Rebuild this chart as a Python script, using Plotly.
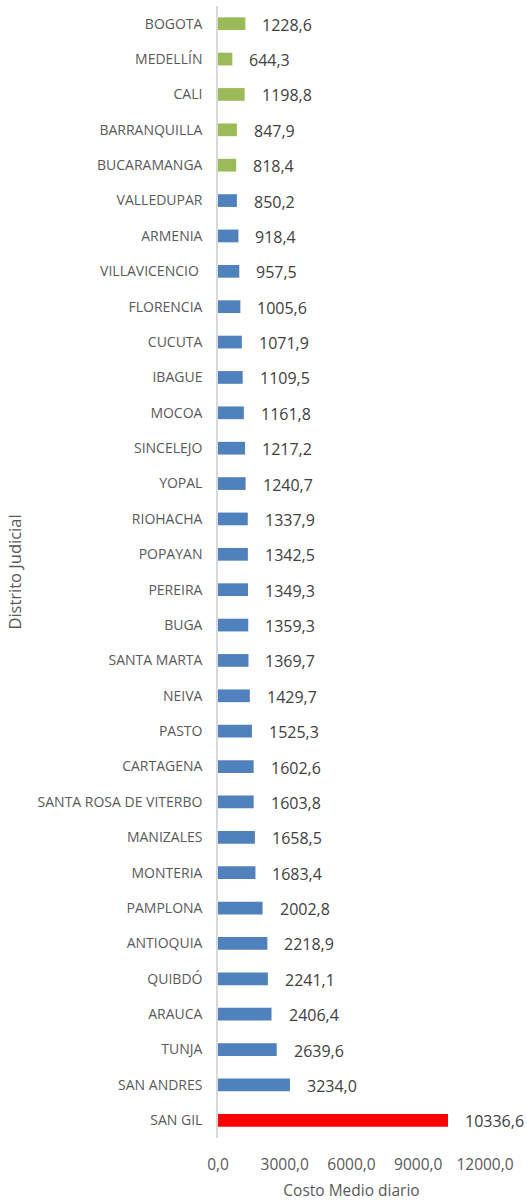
import plotly.graph_objects as go

categories = ["BOGOTA", "MEDELLÍN", "CALI", "BARRANQUILLA", "BUCARAMANGA",
              "VALLEDUPAR", "ARMENIA", "VILLAVICENCIO ", "FLORENCIA", "CUCUTA",
              "IBAGUE", "MOCOA", "SINCELEJO", "YOPAL", "RIOHACHA", "POPAYAN",
              "PEREIRA", "BUGA", "SANTA MARTA", "NEIVA", "PASTO", "CARTAGENA",
              "SANTA ROSA DE VITERBO", "MANIZALES", "MONTERIA", "PAMPLONA",
              "ANTIOQUIA", "QUIBDÓ", "ARAUCA", "TUNJA", "SAN ANDRES", "SAN GIL"]
values = [1228.6, 644.3, 1198.8, 847.9, 818.4,
          850.2, 918.4, 957.5, 1005.6, 1071.9,
          1109.5, 1161.8, 1217.2, 1240.7, 1337.9, 1342.5,
          1349.3, 1359.3, 1369.7, 1429.7, 1525.3, 1602.6,
          1603.8, 1658.5, 1683.4, 2002.8,
          2218.9, 2241.1, 2406.4, 2639.6, 3234.0, 10336.6]
groups = ["main"] * 5 + ["other"] * 26 + ["max"]
group_colors = {"main": "#9BBB59", "other": "#4F81BD", "max": "#FF0000"}
x_ticks = [0, 3000, 6000, 9000, 12000]

colors = [group_colors[g] for g in groups]

fig = go.Figure()
fig.add_trace(go.Bar(
    x=values, y=categories, orientation="h",
    marker=dict(color=colors, line=dict(width=0)),
    width=0.36, hoverinfo="skip",
))

for c, v in zip(categories, values):
    fig.add_annotation(
        x=v, y=c, xref="x", yref="y",
        text=f"{v:.1f}".replace(".", ","),
        showarrow=False, xanchor="left", yanchor="middle",
        xshift=15, yshift=-1,
        font=dict(family="Open Sans", size=16, color="#404040"),
    )

fig.update_layout(
    width=527, height=1201,
    margin=dict(l=218, r=42, t=6, b=63),
    paper_bgcolor="white", plot_bgcolor="white",
    separators=",.",
    showlegend=False,
    font=dict(family="Open Sans", color="#595959"),
    bargap=0.64,
)
fig.update_xaxes(
    range=[0, 12000], tickvals=x_ticks, tickformat=".1f",
    showgrid=False, zeroline=False, showline=False,
    ticks="outside", ticklen=12, tickcolor="rgba(0,0,0,0)",
    tickfont=dict(family="Open Sans", size=15.5, color="#595959"),
    title=dict(text="Costo Medio diario", standoff=15,
               font=dict(family="Open Sans", size=15.5, color="#595959")),
    automargin=False,
    fixedrange=True,
)
fig.update_yaxes(
    categoryorder="array", categoryarray=categories, autorange=False,
    range=[len(categories) - 0.5, -0.5],
    showgrid=False, zeroline=False,
    showline=True, linecolor="#D9D9D9", linewidth=1.5,
    ticks="outside", ticklen=11, tickcolor="rgba(0,0,0,0)",
    tickfont=dict(family="Open Sans", size=14, color="#595959"),
    title=dict(text="Distrito Judicial", standoff=12,
               font=dict(family="Open Sans", size=16.5, color="#595959")),
    automargin=False,
    fixedrange=True,
)

fig.write_html(
    "out.html",
    config={"displayModeBar": False},
    post_script="document.body.style.margin='0';document.body.style.overflow='hidden';",
)
